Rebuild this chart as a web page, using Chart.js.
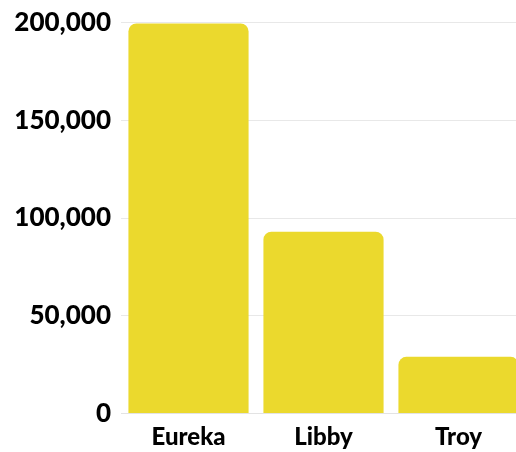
<!DOCTYPE html>
<html>
<head>
<meta charset="utf-8">
<script src="https://cdn.jsdelivr.net/npm/chart.js@4/dist/chart.umd.min.js"></script>
<style>
  html, body { margin: 0; padding: 0; background: #fff; overflow: hidden; }
  #wrap { width: 526px; height: 452px; }
</style>
</head>
<body>
<div id="wrap"><canvas id="myChart"></canvas></div>
<script>
const towns = ['Eureka', 'Libby', 'Troy'];
const population = [199500, 93000, 29000];
const tickValues = [0, 50000, 100000, 150000, 200000];

const ctx = document.getElementById('myChart');

new Chart(ctx, {
  type: 'bar',
  data: {
    labels: towns,
    datasets: [
      {
        data: population,
        backgroundColor: '#EBD92D',
        borderRadius: { topLeft: 8, topRight: 8 },
        borderSkipped: 'bottom',
        barPercentage: 0.89,
        categoryPercentage: 1
      }
    ]
  },
  options: {
    responsive: true,
    maintainAspectRatio: false,
    animation: false,
    layout: { padding: { top: 22.5, right: 0, bottom: 0, left: 0 } },
    plugins: {
      legend: { display: false },
      tooltip: { enabled: false }
    },
    scales: {
      x: {
        grid: { display: false, drawTicks: false },
        border: { display: true, color: '#e3e3e3', width: 1 },
        ticks: {
          color: '#000',
          padding: 9,
          font: { family: 'Lato', size: 24, weight: '900' }
        },
        afterFit: s => { s.height = 38.5; }
      },
      y: {
        min: 0,
        max: 200000,
        afterBuildTicks: s => { s.ticks = tickValues.map(v => ({ value: v })); },
        grid: { color: '#e8e8e8', lineWidth: 1, drawTicks: false },
        border: { display: false },
        ticks: {
          color: '#000',
          padding: 10,
          font: { family: 'Lato', size: 26, weight: '900' },
          callback: v => v.toLocaleString('en-US')
        },
        afterFit: s => {
          s.width = 121;
          s.paddingTop = 0;
          s.paddingBottom = 0;
        }
      }
    }
  }
});
</script>
</body>
</html>
